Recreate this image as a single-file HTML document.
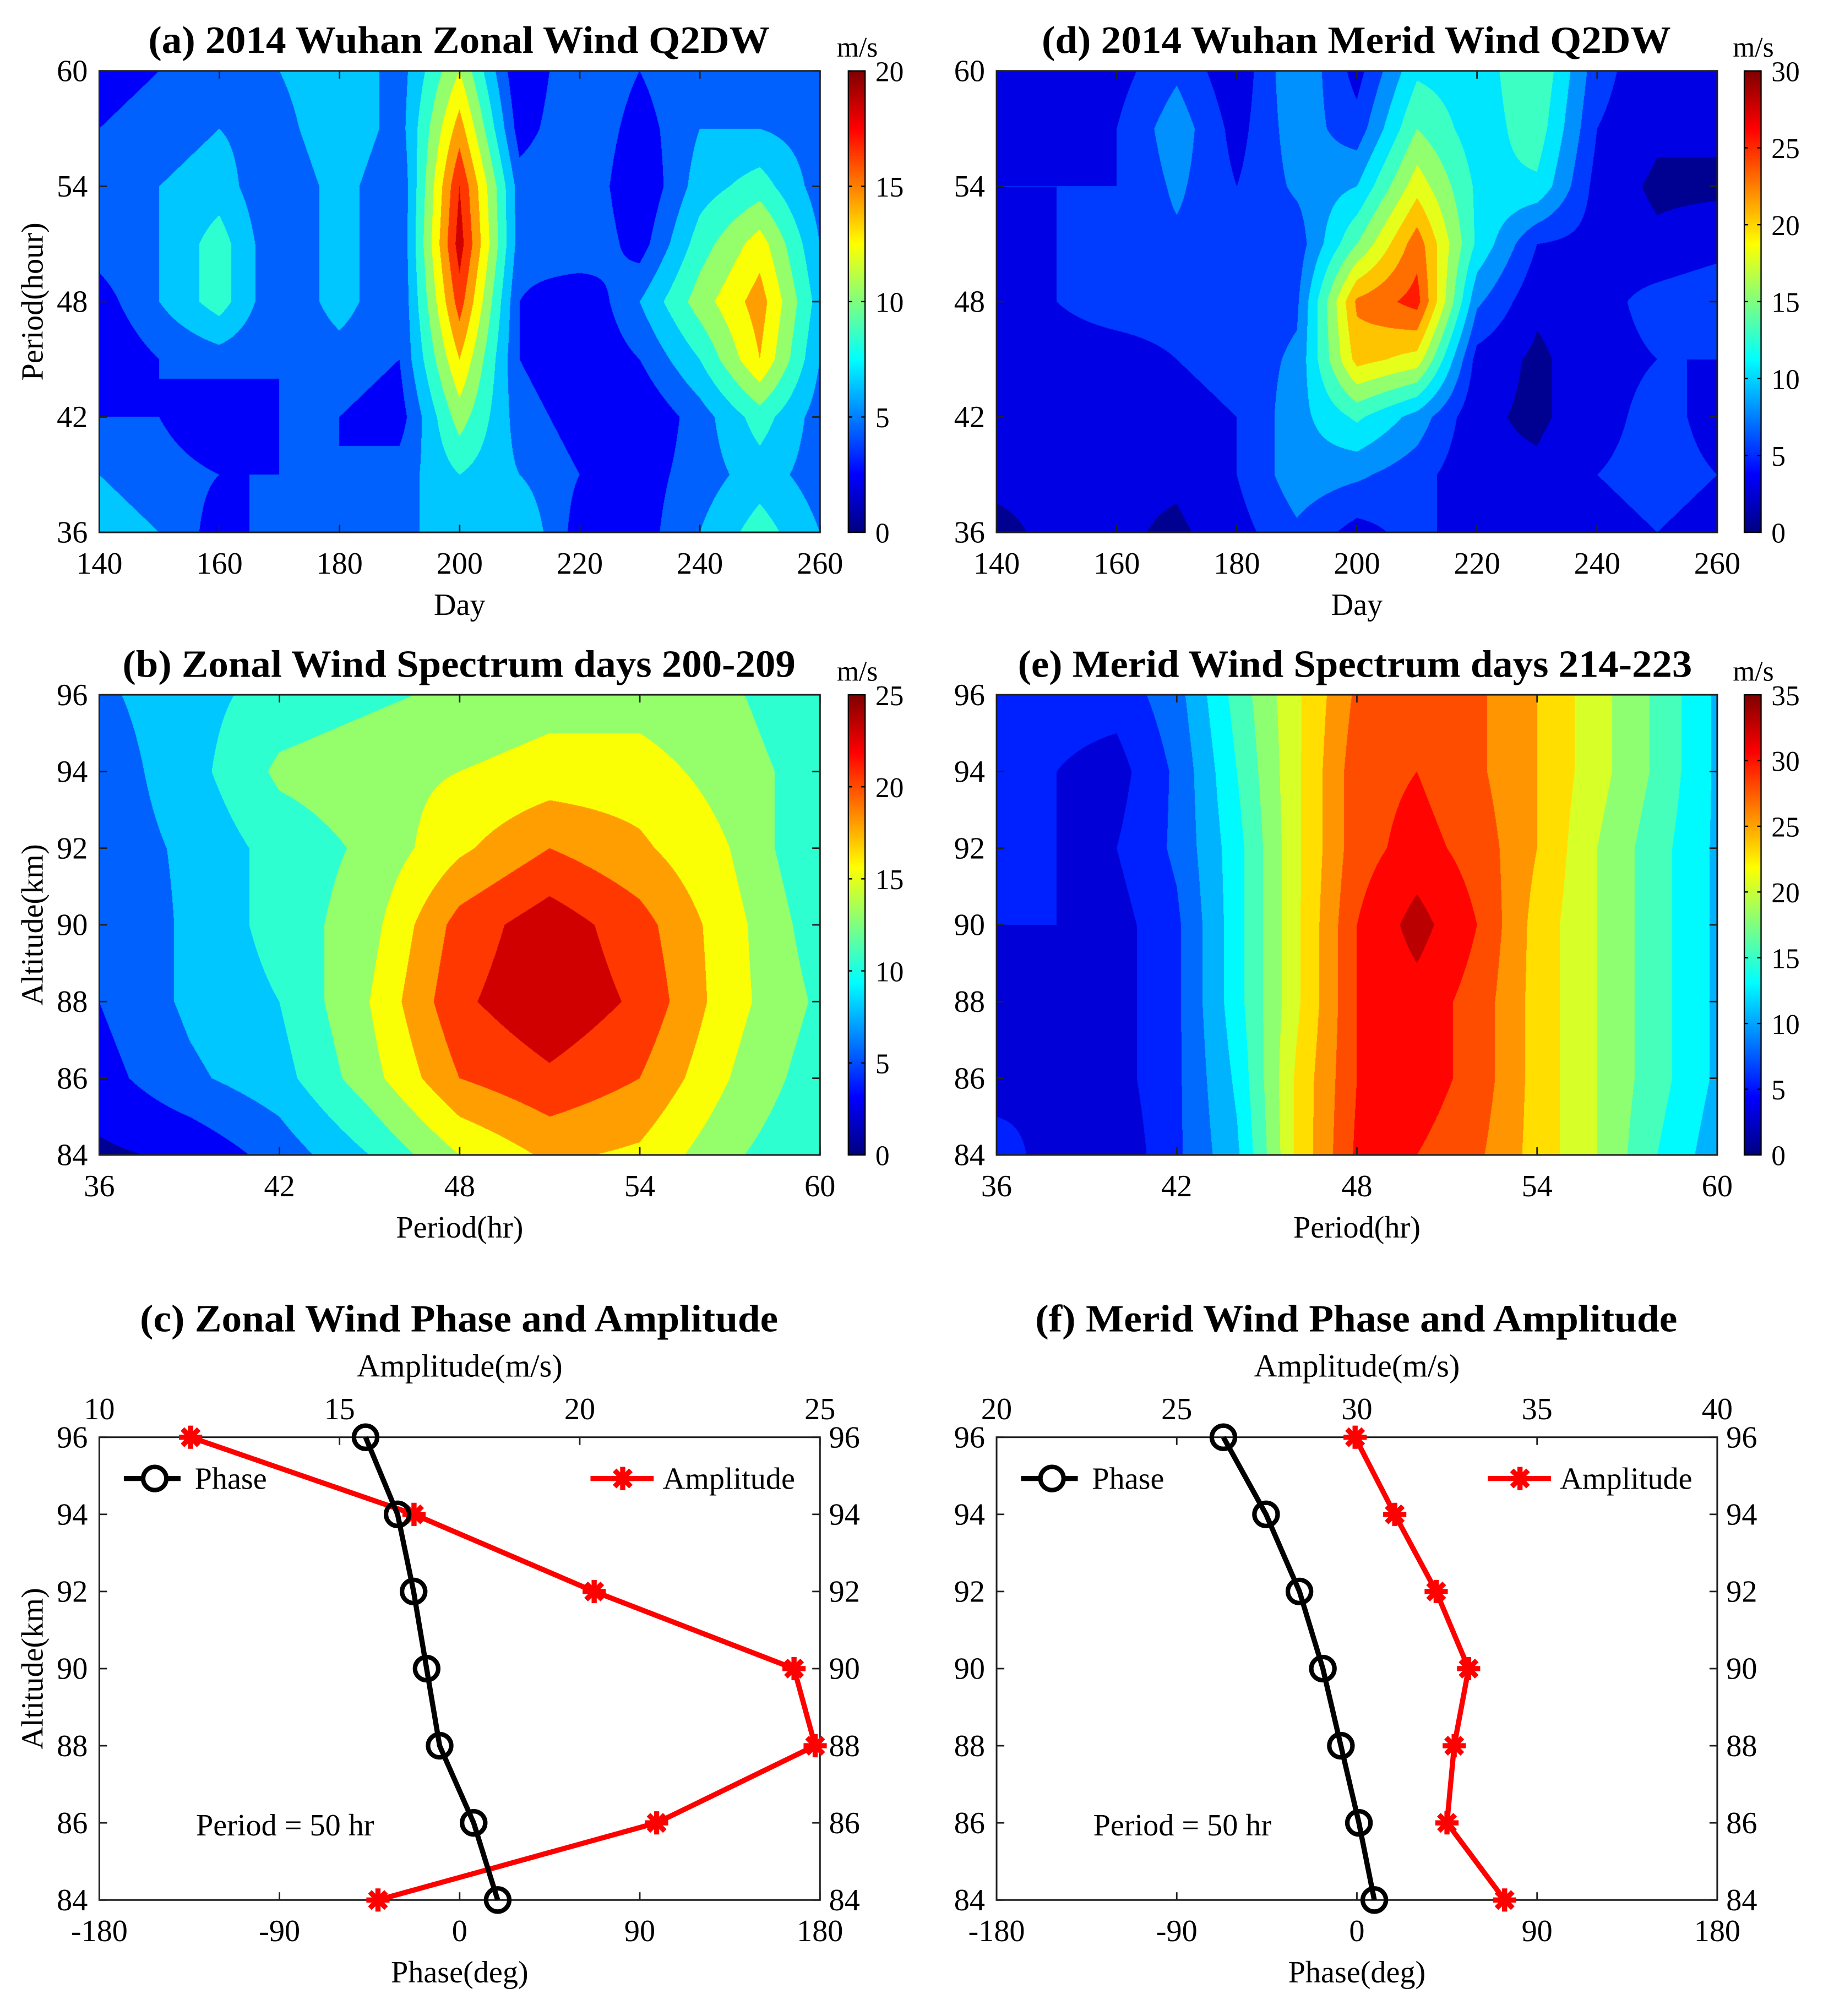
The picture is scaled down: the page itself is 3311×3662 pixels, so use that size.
<!DOCTYPE html>
<html><head><meta charset="utf-8">
<style>
html,body{margin:0;padding:0;background:#fff;}
#wrap{position:relative;width:3311px;height:3662px;overflow:hidden;background:#fff;}
canvas{position:absolute;}
svg{position:absolute;left:0;top:0;}
svg text{font-family:"Liberation Serif","Times New Roman",serif;fill:#000;}
</style></head>
<body>
<div id="wrap">
<canvas id="ca"></canvas>
<canvas id="cd"></canvas>
<canvas id="cb"></canvas>
<canvas id="ce"></canvas>
<canvas id="cba"></canvas>
<canvas id="cbd"></canvas>
<canvas id="cbb"></canvas>
<canvas id="cbe"></canvas>
<svg id="ov" width="3311" height="3662" viewBox="0 0 1414 1564" font-family="Liberation Serif, serif"></svg>
</div>
<script>
// ---- data ----
const dayCats = [140,150,160,170,180,190,200,210,220,230,240,250,260];
const periodRows = [36,39,42,45,48,51,54,57,60];
const zonalQ2dw = [
 [7,6,3,5,5,6,6,8,3,3,6,9,6],
 [6,5,4,4,4,5,8,6,4,3,5,7,5],
 [4,4,2,4,4,3,11,5,3,2,5,9,5],
 [2,4,5,4,5,4,14,4,2,4,8,14,6],
 [3,6,9,4,7,4,17,4,2,6,11,15,7],
 [5,6,9,4,7,4,19,5,6,3,9,13,6],
 [5,6,7,4,7,4,18,5,6,2,7,9,5],
 [4,5,6,5,8,5,15,3,6,3,6,6,5],
 [3,4,5,6,8,5,12,2,6,4,6,5,4]];
const meridQ2dw = [
 [2,3,3,2,4,7,4,6,3,4,4,5,4],
 [3,3,3,3,5,9,8,6,3,3,5,6,5],
 [3,4,3,4,5,9,13,9,3,2,4,6,4],
 [4,4,4,5,6,8,21,19,4,2,4,5,5],
 [4,5,6,6,6,7,23,26,8,3,4,6,7],
 [4,5,6,7,6,6,15,24,12,5,4,3,4],
 [5,5,5,8,5,8,10,19,12,12,4,2,2],
 [4,4,5,9,4,9,6,15,11,14,5,3,3],
 [3,3,4,7,3,10,4,12,11,15,6,3,3]];
const specPeriodsB = [36,39,42,45,48,51,54,57,60];
const altRows = [84,86,88,90,92,94,96];
const zonalSpec = [
 [2,3,6,10,15,18,17,13,10],
 [4,7,9,14,20,22,20,15,11],
 [5,8,10,15,22,24.5,22,16,12],
 [5,8,11,14,21,24,21,16,11],
 [6,8,11,13,17,20,18,15,10],
 [6,9,13,14,15,16,16,14,11],
 [7,9,11,12,13,14,14,13,10]];
const specPeriodsE = [36,38,40,42,44,46,48,50,52,54,56,58,60];
const meridSpec = [
 [6,4,3,7,12,23,30.5,30,28,24,20,15,11],
 [4,5,4,7,13,23,30,31.5,29,24,20,16,12],
 [4,5,4,7,14,22,30,31.5,29,24,20,16,12],
 [5,5,4,7,14,22,30,33.5,30,24,20,16,12],
 [5,5,5,8,14,22,29,31,29,25,20,16,12],
 [6,5,4,8,15,22,29,30,28,25,21,17,12],
 [7,6,6,9,16,22,28,30,28,25,21,17,12]];
const altitudes = [84,86,88,90,92,94,96];
const zonalPhase = [19,7,-10,-16.5,-23,-31,-47];
const zonalAmp = [15.8,21.6,24.9,24.46,20.3,16.55,11.9];
const meridPhase = [8.7,1,-8,-17,-28.7,-45.4,-66.7];
const meridAmp = [34.1,32.5,32.7,33.1,32.2,31.05,29.95];
const dayTicks = [140,160,180,200,220,240,260];
const periodTicks = [36,42,48,54,60];
const altTicks = [84,86,88,90,92,94,96];
const phaseTicks = [-180,-90,0,90,180];

// ---- helpers ----
const S = 3311/1414;
const NS = 'http://www.w3.org/2000/svg';
const FONT = '"Liberation Serif", serif';
const ov = document.getElementById('ov');
function el(tag, attrs, txt, parent){
  const e = document.createElementNS(NS, tag);
  for (const k in attrs) e.setAttribute(k, attrs[k]);
  if (tag==='text') e.setAttribute('font-family', FONT);
  if (txt !== undefined) e.textContent = txt;
  (parent||ov).appendChild(e);
  return e;
}
function jet(t){
  t=Math.max(0,Math.min(1,t));
  const c=v=>Math.round(255*Math.max(0,Math.min(1,v)));
  return [c(1.5-Math.abs(4*t-3)), c(1.5-Math.abs(4*t-2)), c(1.5-Math.abs(4*t-1))];
}
function levelColor(v, step, vmax){
  let i=Math.floor(v/step); const n=Math.round(vmax/step);
  if(i<0)i=0; if(i>n-1)i=n-1;
  return jet((i+0.2)/n);
}
function interp(xs, ys, z, x, y){
  let i=0; while(i<xs.length-2 && x>xs[i+1]) i++;
  let j=0; while(j<ys.length-2 && y>ys[j+1]) j++;
  const tx=(x-xs[i])/(xs[i+1]-xs[i]), ty=(y-ys[j])/(ys[j+1]-ys[j]);
  return (z[j][i]*(1-tx)+z[j][i+1]*tx)*(1-ty)+(z[j+1][i]*(1-tx)+z[j+1][i+1]*tx)*ty;
}
function contour(id, box, xs, ys, z, step, vmax){
  const cv=document.getElementById(id);
  const W=Math.round(box.w*S), H=Math.round(box.h*S);
  cv.width=W; cv.height=H;
  cv.style.left=(box.x*S)+'px'; cv.style.top=(box.y*S)+'px';
  const ctx=cv.getContext('2d'); const img=ctx.createImageData(W,H);
  const x0=xs[0], x1=xs[xs.length-1], y0=ys[0], y1=ys[ys.length-1];
  for(let py=0;py<H;py++){
    const yv=y1-(py+0.5)/H*(y1-y0);
    for(let px=0;px<W;px++){
      const xv=x0+(px+0.5)/W*(x1-x0);
      const c=levelColor(interp(xs,ys,z,xv,yv),step,vmax);
      const k=(py*W+px)*4; img.data[k]=c[0];img.data[k+1]=c[1];img.data[k+2]=c[2];img.data[k+3]=255;
    }
  }
  ctx.putImageData(img,0,0);
}
function colorbar(id, box, step, vmax){
  const cv=document.getElementById(id);
  const W=Math.round(box.w*S), H=Math.round(box.h*S);
  cv.width=W; cv.height=H;
  cv.style.left=(box.x*S)+'px'; cv.style.top=(box.y*S)+'px';
  const ctx=cv.getContext('2d');
  for(let py=0;py<H;py++){
    const c=jet(1-(py+0.5)/H);
    ctx.fillStyle='rgb('+c.join(',')+')'; ctx.fillRect(0,py,W,1);
  }
  el('rect',{x:box.x,y:box.y,width:box.w,height:box.h,fill:'none',stroke:'#000','stroke-width':1});
  const n=vmax/5;
  for(let k=0;k<=n;k++){
    const v=k*5, y=box.y+box.h-v/vmax*box.h;
    el('line',{x1:box.x,x2:box.x+3,y1:y,y2:y,stroke:'#000','stroke-width':1});
    el('line',{x1:box.x+box.w-3,x2:box.x+box.w,y1:y,y2:y,stroke:'#000','stroke-width':1});
    const t=el('text',{x:box.x+21,y:y+8,'font-size':22},String(v));
    
    
  }
  const u=el('text',{x:box.x+7,y:box.y-11,'font-size':22,'text-anchor':'middle'},'m/s');
  
  
}
function axes(box, xmin, xmax, xticks, ymin, ymax, yticks, opts){
  const g=el('g',{});
  
  
  const sx=v=>box.x+(v-xmin)/(xmax-xmin)*box.w;
  const sy=v=>box.y+box.h-(v-ymin)/(ymax-ymin)*box.h;
  el('rect',{x:box.x,y:box.y,width:box.w,height:box.h,fill:'none',stroke:'#222','stroke-width':1.3},undefined,g);
  xticks.forEach(v=>{
    const x=sx(v);
    el('line',{x1:x,x2:x,y1:box.y+box.h,y2:box.y+box.h-6,stroke:'#222','stroke-width':1.2},undefined,g);
    if(opts.topTicks!==false) el('line',{x1:x,x2:x,y1:box.y,y2:box.y+6,stroke:'#222','stroke-width':1.2},undefined,g);
    const t=el('text',{x:x,y:box.y+box.h+32,'font-size':24,'text-anchor':'middle'},String(v),g);
    
    
  });
  yticks.forEach(v=>{
    const y=sy(v);
    el('line',{x1:box.x,x2:box.x+6,y1:y,y2:y,stroke:'#222','stroke-width':1.2},undefined,g);
    el('line',{x1:box.x+box.w,x2:box.x+box.w-6,y1:y,y2:y,stroke:'#222','stroke-width':1.2},undefined,g);
    const t=el('text',{x:box.x-9,y:y+8,'font-size':24,'text-anchor':'end'},String(v),g);
    
    
    if(opts.rightLabels){
      const r=el('text',{x:box.x+box.w+7,y:y+8,'font-size':24},String(v),g);
      
      
    }
  });
  const cx=opts.titleX;
  const tt=el('text',{x:cx,y:opts.titleY,'font-size':30,'font-weight':'bold','text-anchor':'middle',textLength:opts.titleW,lengthAdjust:'spacingAndGlyphs'},opts.title,g);
  
  
  const xl=el('text',{x:box.x+box.w/2,y:box.y+box.h+64,'font-size':24,'text-anchor':'middle'},opts.xlabel,g);
  
  
  if(opts.ylabel){
    const cy=box.y+box.h/2;
    const yl=el('text',{x:0,y:0,'font-size':24,'text-anchor':'middle',transform:'translate(33,'+cy+') rotate(-90)'},opts.ylabel,g);
    
    
  }
  return {sx,sy,g};
}

// ---- contour panels ----
const bA={x:77,y:55,w:559,h:358}, bD={x:773,y:55,w:559,h:358};
const bB={x:77,y:539,w:559,h:357}, bE={x:773,y:539,w:559,h:357};
contour('ca',bA,dayCats,periodRows,zonalQ2dw,2,20);
contour('cd',bD,dayCats,periodRows,meridQ2dw,2.5,30);
contour('cb',bB,specPeriodsB,altRows,zonalSpec,2.5,25);
contour('ce',bE,specPeriodsE,altRows,meridSpec,2.5,35);
axes(bA,140,260,dayTicks,36,60,periodTicks,{name:'panel-a',title:'(a) 2014 Wuhan Zonal Wind Q2DW',titleX:356,titleW:482,titleY:41,xlabel:'Day',ylabel:'Period(hour)'});
axes(bD,140,260,dayTicks,36,60,periodTicks,{name:'panel-d',title:'(d) 2014 Wuhan Merid Wind Q2DW',titleX:1052,titleW:488,titleY:41,xlabel:'Day'});
axes(bB,36,60,periodTicks,84,96,altTicks,{name:'panel-b',title:'(b) Zonal Wind Spectrum days 200-209',titleX:356,titleW:522,titleY:525,xlabel:'Period(hr)',ylabel:'Altitude(km)'});
axes(bE,36,60,periodTicks,84,96,altTicks,{name:'panel-e',title:'(e) Merid Wind Spectrum days 214-223',titleX:1051,titleW:523,titleY:525,xlabel:'Period(hr)'});
colorbar('cba',{x:658,y:55,w:13,h:358},2,20);
colorbar('cbd',{x:1353,y:55,w:13,h:358},2.5,30);
colorbar('cbb',{x:658,y:539,w:13,h:357},2.5,25);
colorbar('cbe',{x:1353,y:539,w:13,h:357},2.5,35);

// ---- line panels ----
function star(x,y,g){
  const r=9;
  [[r,0],[0,r],[r*0.7,r*0.7],[r*0.7,-r*0.7]].forEach(d=>{
    el('line',{x1:x-d[0],y1:y-d[1],x2:x+d[0],y2:y+d[1],stroke:'#ff0000','stroke-width':4},undefined,g);
  });
}
function linePanel(box, phase, amp, amin, amax, ampTicks, title, titleX, titleW, name, ylabel){
  const a=axes(box,-180,180,phaseTicks,84,96,altTicks,{name:name,title:title,titleX:titleX,titleW:titleW,titleY:1033,xlabel:'Phase(deg)',ylabel:ylabel,rightLabels:true,topTicks:false});
  const g=a.g;
  const sa=v=>box.x+(v-amin)/(amax-amin)*box.w;
  ampTicks.forEach(v=>{
    const x=sa(v);
    el('line',{x1:x,x2:x,y1:box.y,y2:box.y+6,stroke:'#222','stroke-width':1.2},undefined,g);
    const t=el('text',{x:x,y:box.y-14,'font-size':24,'text-anchor':'middle'},String(v),g);
    
    
  });
  const at=el('text',{x:box.x+box.w/2,y:1068,'font-size':25,'text-anchor':'middle'},'Amplitude(m/s)',g);
  
  
  const ap=amp.map((v,i)=>sa(v)+','+a.sy(altitudes[i])).join(' ');
  const al=el('polyline',{points:ap,fill:'none',stroke:'#ff0000','stroke-width':4},undefined,g);
  
  
  amp.forEach((v,i)=>star(sa(v),a.sy(altitudes[i]),g));
  const pp=phase.map((v,i)=>a.sx(v)+','+a.sy(altitudes[i])).join(' ');
  const pl=el('polyline',{points:pp,fill:'none',stroke:'#000','stroke-width':4},undefined,g);
  
  
  phase.forEach((v,i)=>{
    const c=el('circle',{cx:a.sx(v),cy:a.sy(altitudes[i]),r:9,fill:'none',stroke:'#000','stroke-width':3.5},undefined,g);
    
    
  });
  const lg=el('g',{},undefined,g);
  
  
  el('line',{x1:box.x+19,x2:box.x+63,y1:1147,y2:1147,stroke:'#000','stroke-width':4},undefined,lg);
  el('circle',{cx:box.x+43,cy:1147,r:9,fill:'#fff',stroke:'#000','stroke-width':3.5},undefined,lg);
  el('text',{x:box.x+74,y:1155,'font-size':24},'Phase',lg);
  el('line',{x1:box.x+381,x2:box.x+430,y1:1147,y2:1147,stroke:'#ff0000','stroke-width':4},undefined,lg);
  star(box.x+406,1147,lg);
  el('text',{x:box.x+437,y:1155,'font-size':24},'Amplitude',lg);
  const pt=el('text',{x:box.x+75,y:1424,'font-size':24},'Period = 50 hr',g);
  
  
}
linePanel({x:77,y:1115,w:559,h:359},zonalPhase,zonalAmp,10,25,[10,15,20,25],'(c) Zonal Wind Phase and Amplitude',356,495,'panel-c','Altitude(km)');
linePanel({x:773,y:1115,w:559,h:359},meridPhase,meridAmp,20,40,[20,25,30,35,40],'(f) Merid Wind Phase and Amplitude',1052,498,'panel-f');
</script>
</body></html>
